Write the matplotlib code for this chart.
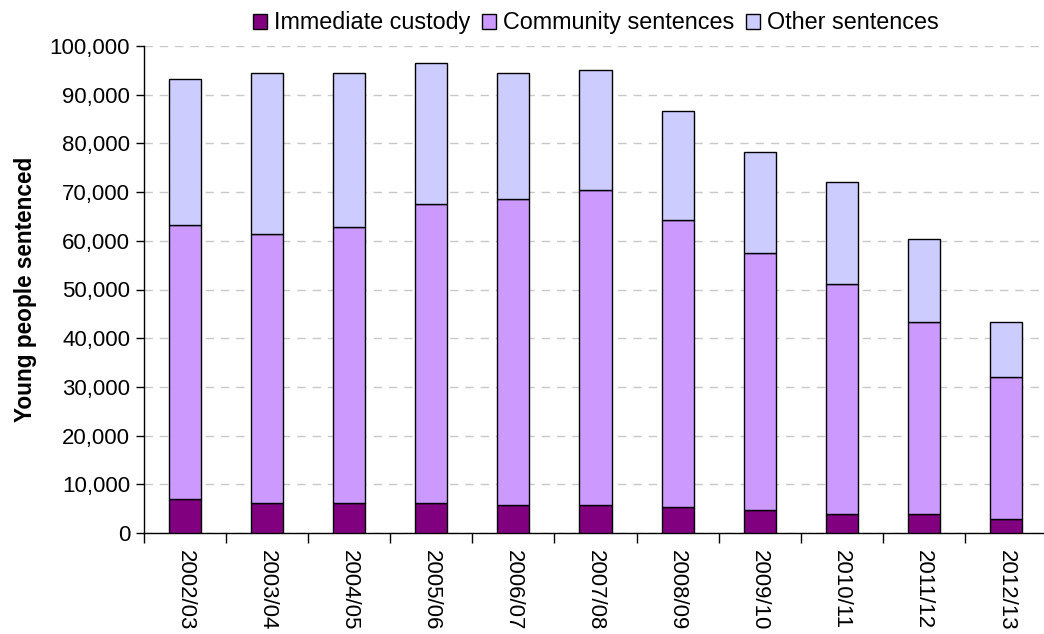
import matplotlib
matplotlib.use('Agg')
import matplotlib.pyplot as plt
from matplotlib.ticker import FuncFormatter
import numpy as np

plt.rcParams['font.family'] = ['Liberation Sans', 'DejaVu Sans']

years = ['2002/03', '2003/04', '2004/05', '2005/06', '2006/07', '2007/08',
         '2008/09', '2009/10', '2010/11', '2011/12', '2012/13']
# cumulative reads
custody = [6900, 6100, 6100, 6100, 5700, 5700, 5300, 4700, 3900, 3900, 2800]
community_top = [63200, 61400, 62900, 67600, 68600, 70500, 64300, 57400, 51100, 43400, 32000]
total = [93300, 94400, 94400, 96600, 94400, 95100, 86700, 78200, 72000, 60300, 43400]

community = [c - i for c, i in zip(community_top, custody)]
other = [t - c for t, c in zip(total, community_top)]

fig = plt.figure(figsize=(10.44, 6.34), dpi=100)
ax = fig.add_axes([144/1044, 101/634, 903/1044, 487/634])

x = np.arange(len(years))
w = 0.39
ax.bar(x, custody, w, color='#800080', edgecolor='black', linewidth=1, label='Immediate custody', zorder=3)
ax.bar(x, community, w, bottom=custody, color='#CC99FF', edgecolor='black', linewidth=1,
       label='Community sentences', zorder=3)
ax.bar(x, other, w, bottom=community_top, color='#CCCCFF', edgecolor='black', linewidth=1,
       label='Other sentences', zorder=3)

ax.set_xlim(-0.5, len(years) - 0.5)
ax.set_ylim(0, 100000)
ax.set_yticks(range(0, 100001, 10000))
ax.yaxis.set_major_formatter(FuncFormatter(lambda v, p: f'{int(v):,}'))
ax.yaxis.grid(True, color='#C8C8C8', linestyle=(0, (6, 5)), linewidth=1, zorder=0)

ax.set_xticks(x)
ax.set_xticklabels(years, rotation=270, fontsize=16)
ax.set_xticks(np.arange(-0.5, len(years)), minor=True)
ax.tick_params(axis='x', which='major', length=0, pad=12)
ax.tick_params(axis='x', which='minor', length=7, width=1, direction='out')
ax.tick_params(axis='y', labelsize=16, length=6, width=1, direction='out', pad=4)

for s in ['top', 'right']:
    ax.spines[s].set_visible(False)
ax.spines['left'].set_linewidth(1)
ax.spines['bottom'].set_linewidth(1)

ax.set_ylabel('Young people sentenced', fontsize=16.3, fontweight='bold', labelpad=9)

ax.legend(loc='lower center', bbox_to_anchor=(0.5, 1.0), ncol=3, frameon=False,
          fontsize=16.8, handlelength=0.6, handleheight=0.6, handletextpad=0.3,
          columnspacing=0.5, borderaxespad=0.1)

fig.savefig('out.png', dpi=100)
